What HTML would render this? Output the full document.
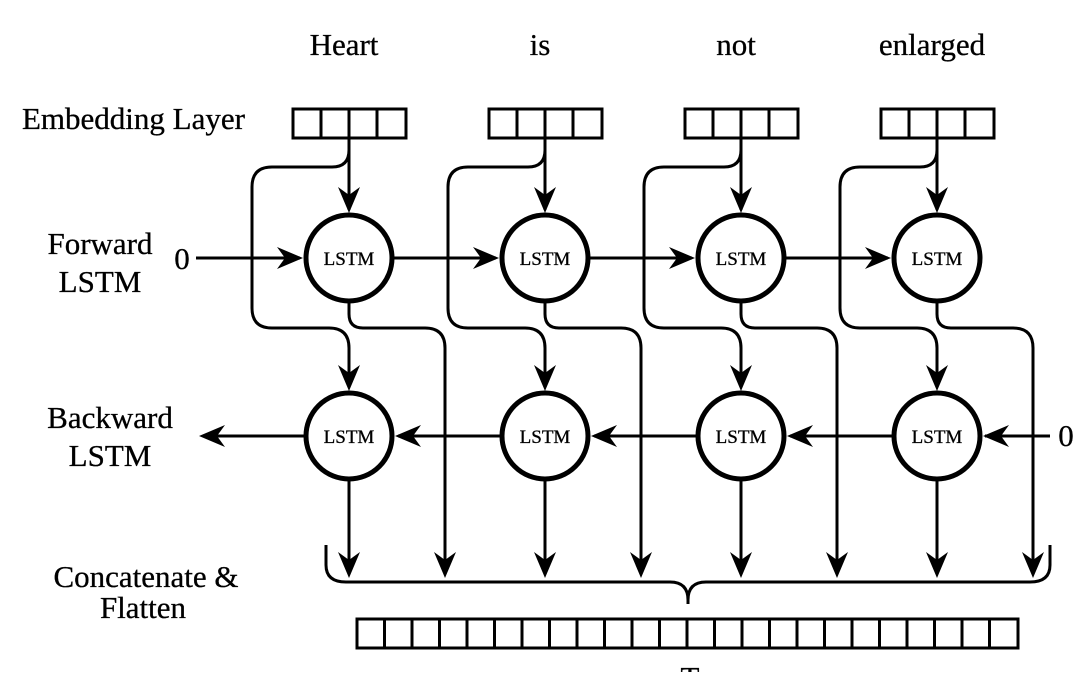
<!DOCTYPE html>
<html><head><style>
body{margin:0;background:#fff}
svg text{font-family:"Liberation Serif",serif;fill:#000;stroke:#000;stroke-width:0.3}
</style></head><body>
<svg width="1080" height="672" viewBox="0 0 1080 672" xmlns="http://www.w3.org/2000/svg">
<defs>
<g id="ah"><path d="M0,0 L-11,-26 L0,-18 L11,-26 Z"/></g>
</defs>
<g font-size="31" text-anchor="middle">
<text x="344" y="55">Heart</text>
<text x="540" y="55">is</text>
<text x="736" y="55">not</text>
<text x="932" y="55">enlarged</text>
</g>
<g font-size="31">
<text x="22" y="129">Embedding Layer</text>
<text x="100" y="254" text-anchor="middle">Forward</text>
<text x="100" y="292" text-anchor="middle">LSTM</text>
<text x="110" y="428" text-anchor="middle">Backward</text>
<text x="110" y="466" text-anchor="middle">LSTM</text>
<text x="146" y="587" text-anchor="middle">Concatenate &amp;</text>
<text x="143" y="618" text-anchor="middle">Flatten</text>
<text x="182" y="269" text-anchor="middle">0</text>
<text x="1066" y="446" text-anchor="middle">0</text>
</g>
<g fill="none" stroke="#000" stroke-width="3">
<line x1="196" y1="258" x2="300" y2="258"/>
<line x1="393" y1="258" x2="496" y2="258"/>
<line x1="589" y1="258" x2="692" y2="258"/>
<line x1="785" y1="258" x2="888" y2="258"/>
<line x1="1050" y1="436" x2="985" y2="436"/>
<line x1="893" y1="436" x2="790" y2="436"/>
<line x1="697" y1="436" x2="594" y2="436"/>
<line x1="501" y1="436" x2="398" y2="436"/>
<line x1="305" y1="436" x2="205" y2="436"/>
</g>
<g id="col">
<g fill="none" stroke="#000" stroke-width="3">
<rect x="293" y="109" width="113" height="29"/>
<line x1="321" y1="109" x2="321" y2="138"/>
<line x1="349" y1="109" x2="349" y2="138"/>
<line x1="377" y1="109" x2="377" y2="138"/>
<line x1="349" y1="138" x2="349" y2="210"/>
<path d="M349,140 V150 Q349,167 332,167 H272 Q252,167 252,187 V308 Q252,328 272,328 H329 Q349,328 349,348 V385"/>
<path d="M349,302 V314 Q349,328 363,328 H425 Q445,328 445,348 V572"/>
<line x1="349" y1="480" x2="349" y2="572"/>
<circle cx="349" cy="258" r="43" stroke-width="5"/>
<circle cx="349" cy="436" r="43" stroke-width="5"/>
</g>
<use href="#ah" transform="translate(349,213)"/>
<use href="#ah" transform="translate(349,391)"/>
<use href="#ah" transform="translate(349,578)"/>
<use href="#ah" transform="translate(445,578)"/>
<text x="349" y="265" font-size="19" text-anchor="middle">LSTM</text>
<text x="349" y="443" font-size="19" text-anchor="middle">LSTM</text>
</g>
<use href="#col" transform="translate(196,0)"/>
<use href="#col" transform="translate(392,0)"/>
<use href="#col" transform="translate(588,0)"/>
<use href="#ah" transform="translate(303,258) rotate(-90)"/>
<use href="#ah" transform="translate(499,258) rotate(-90)"/>
<use href="#ah" transform="translate(695,258) rotate(-90)"/>
<use href="#ah" transform="translate(891,258) rotate(-90)"/>
<use href="#ah" transform="translate(983,436) rotate(90)"/>
<use href="#ah" transform="translate(787,436) rotate(90)"/>
<use href="#ah" transform="translate(591,436) rotate(90)"/>
<use href="#ah" transform="translate(395,436) rotate(90)"/>
<use href="#ah" transform="translate(199,436) rotate(90)"/>
<g fill="none" stroke="#000" stroke-width="3">
<path d="M326,545 V565 Q326,582 346,582 H670 Q688,582 688,600 Q688,582 706,582 H1030 Q1050,582 1050,565 V545"/>
<line x1="688" y1="598" x2="688" y2="604"/>
<rect x="357" y="619" width="661" height="29"/>
</g>
<path stroke="#000" stroke-width="3" d="M384.5,619V648M412,619V648M439.5,619V648M467,619V648M494.5,619V648M522,619V648M549.5,619V648M577,619V648M604.5,619V648M632,619V648M659.5,619V648M687,619V648M714.5,619V648M742,619V648M769.5,619V648M797,619V648M824.5,619V648M852,619V648M879.5,619V648M907,619V648M934.5,619V648M962,619V648M989.5,619V648"/>
<text x="690" y="688" font-size="31" text-anchor="middle">T</text>
</svg>
</body></html>
